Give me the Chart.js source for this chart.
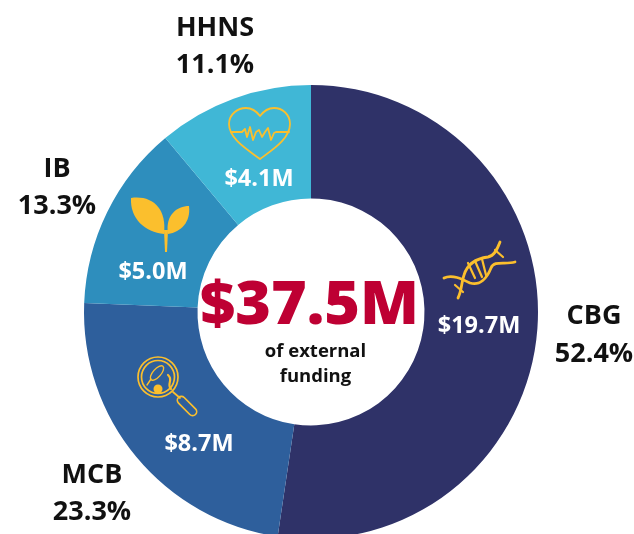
<!DOCTYPE html>
<html><head><meta charset="utf-8">
<style>html,body{margin:0;padding:0;background:#fff;overflow:hidden;width:634px;height:534px}canvas{display:block}#w{width:634px;height:624px;position:relative}</style>
<script src="https://cdn.jsdelivr.net/npm/chart.js@4/dist/chart.umd.min.js"></script>
</head><body><div id="w"><canvas id="c" width="634" height="624"></canvas></div>
<script>
const categories=["CBG","MCB","IB","HHNS"];
const shares=[52.4,23.3,13.3,11.1];
const amounts=["$19.7M","$8.7M","$5.0M","$4.1M"];
const colors=["#2F3268","#2E5F9C","#2E8EBD","#40B7D6"];
const total="$37.5M";
const centerLines=["of external","funding"];
const FONT='"Open Sans"';
const GOLD="#FBBF2D";

function txt(ctx,s,x,y,size,col,w){ctx.font=(w||700)+" "+size+"px "+FONT;ctx.fillStyle=col;ctx.textAlign="center";ctx.textBaseline="middle";ctx.fillText(s,x,y);}

function heart(ctx){
 ctx.save();ctx.strokeStyle=GOLD;ctx.lineWidth=1.8;ctx.lineJoin="round";ctx.lineCap="round";
 ctx.beginPath();
 ctx.moveTo(260,159);
 ctx.bezierCurveTo(248,150,229,139,229,124);
 ctx.bezierCurveTo(229,114,238,108,246,108);
 ctx.bezierCurveTo(252,108,257,112,260,116);
 ctx.bezierCurveTo(263,112,268,108,274,108);
 ctx.bezierCurveTo(282,108,290,114,290,124);
 ctx.bezierCurveTo(290,139,272,150,260,159);
 ctx.closePath();ctx.stroke();
 ctx.beginPath();
 const p=[[231,132],[242,132],[245,129],[247,137],[250,127],[253,140],[256,132],[259,130],[262,137],[265,132],[268,128],[271,140],[274,133],[276,132],[289,132]];
 p.forEach((q,i)=>i?ctx.lineTo(q[0],q[1]):ctx.moveTo(q[0],q[1]));ctx.stroke();ctx.restore();
}
function sprout(ctx){
 ctx.save();ctx.fillStyle=GOLD;
 ctx.beginPath();ctx.moveTo(131,198);ctx.bezierCurveTo(152,195,167,208,164,234);ctx.bezierCurveTo(145,232,130,219,131,198);ctx.fill();
 ctx.beginPath();ctx.moveTo(189,206);ctx.bezierCurveTo(177,206,165,215,168,234);ctx.bezierCurveTo(181,232,191,222,189,206);ctx.fill();
 ctx.beginPath();ctx.moveTo(164,230);ctx.lineTo(168,230);ctx.lineTo(167,252);ctx.lineTo(165,252);ctx.closePath();ctx.fill();
 ctx.restore();
}
function dna(ctx){
 ctx.save();ctx.strokeStyle=GOLD;ctx.lineWidth=2.8;ctx.lineCap="round";
 ctx.beginPath();ctx.moveTo(444,278);ctx.bezierCurveTo(452,274,462,279,470,283);ctx.bezierCurveTo(480,286,487,278,491,268);ctx.bezierCurveTo(494,260,505,265,515,262);ctx.stroke();
 ctx.beginPath();ctx.moveTo(458,298);ctx.bezierCurveTo(462,290,461,284,464,275);ctx.bezierCurveTo(468,262,480,258,488,257);ctx.bezierCurveTo(494,256,497,250,500,242);ctx.stroke();
 ctx.lineWidth=2.2;
 [[468,263,475,278],[475,261,482,277],[482,259,486,275],[495,250,503,257],[455,285,463,292]].forEach(a=>{ctx.beginPath();ctx.moveTo(a[0],a[1]);ctx.lineTo(a[2],a[3]);ctx.stroke();});
 ctx.restore();
}
function lens(ctx){
 ctx.save();ctx.strokeStyle=GOLD;ctx.lineCap="round";ctx.lineJoin="round";
 ctx.lineWidth=1.7;
 ctx.beginPath();ctx.arc(158,377,20,0,Math.PI*2);ctx.stroke();
 ctx.beginPath();ctx.arc(158,377,16.5,0,Math.PI*2);ctx.stroke();
 ctx.beginPath();ctx.moveTo(173,392);ctx.lineTo(180,398);ctx.stroke();
 ctx.save();ctx.translate(187,406);ctx.rotate(Math.PI/4);
 ctx.beginPath();ctx.roundRect(-12,-4,24,8,4);ctx.stroke();ctx.restore();
 ctx.lineWidth=1.4;
 ctx.save();ctx.translate(157,373);ctx.rotate(-0.85);ctx.beginPath();ctx.ellipse(0,0,9,4,0,0,Math.PI*2);ctx.stroke();ctx.restore();
 ctx.beginPath();ctx.moveTo(151,379);ctx.lineTo(147,385);ctx.stroke();
 ctx.fillStyle=GOLD;ctx.beginPath();ctx.arc(158,389,4.5,0,Math.PI*2);ctx.fill();
 ctx.lineWidth=2.2;
 ctx.beginPath();ctx.moveTo(168,375);ctx.bezierCurveTo(174,380,166,384,171,389);ctx.stroke();
 ctx.restore();
}
const overlay={id:"overlay",afterDatasetsDraw(ch){
 const ctx=ch.ctx;ctx.save();
 heart(ctx);sprout(ctx);dna(ctx);lens(ctx);
 txt(ctx,amounts[0],479,326,23.5,"#fff");
 txt(ctx,amounts[1],199,444,23.5,"#fff");
 txt(ctx,amounts[2],153,272,23.5,"#fff");
 txt(ctx,amounts[3],259,179,23.5,"#fff");
 txt(ctx,total,309.5,307,61,"#BE0033",800);
 txt(ctx,centerLines[0],315.5,351.5,18.5,"#111");
 txt(ctx,centerLines[1],315.5,376.5,18.5,"#111");
 txt(ctx,categories[0],594,316,27,"#111");
 txt(ctx,shares[0].toFixed(1)+"%",594,354,27,"#111");
 txt(ctx,categories[1],92,475,27,"#111");
 txt(ctx,shares[1].toFixed(1)+"%",92,512,27,"#111");
 txt(ctx,categories[2],57,169,27,"#111");
 txt(ctx,shares[2].toFixed(1)+"%",57,206,27,"#111");
 txt(ctx,categories[3],215,28,27,"#111");
 txt(ctx,shares[3].toFixed(1)+"%",215,65,27,"#111");
 ctx.restore();
}};
new Chart(document.getElementById("c"),{type:"doughnut",
 data:{labels:categories,datasets:[{data:shares,backgroundColor:colors,borderWidth:0}]},
 options:{responsive:false,animation:false,cutout:"50%",
  layout:{padding:{left:84,right:96,top:85,bottom:85}},
  plugins:{legend:{display:false},tooltip:{enabled:false}}},
 plugins:[overlay]});
</script></body></html>
